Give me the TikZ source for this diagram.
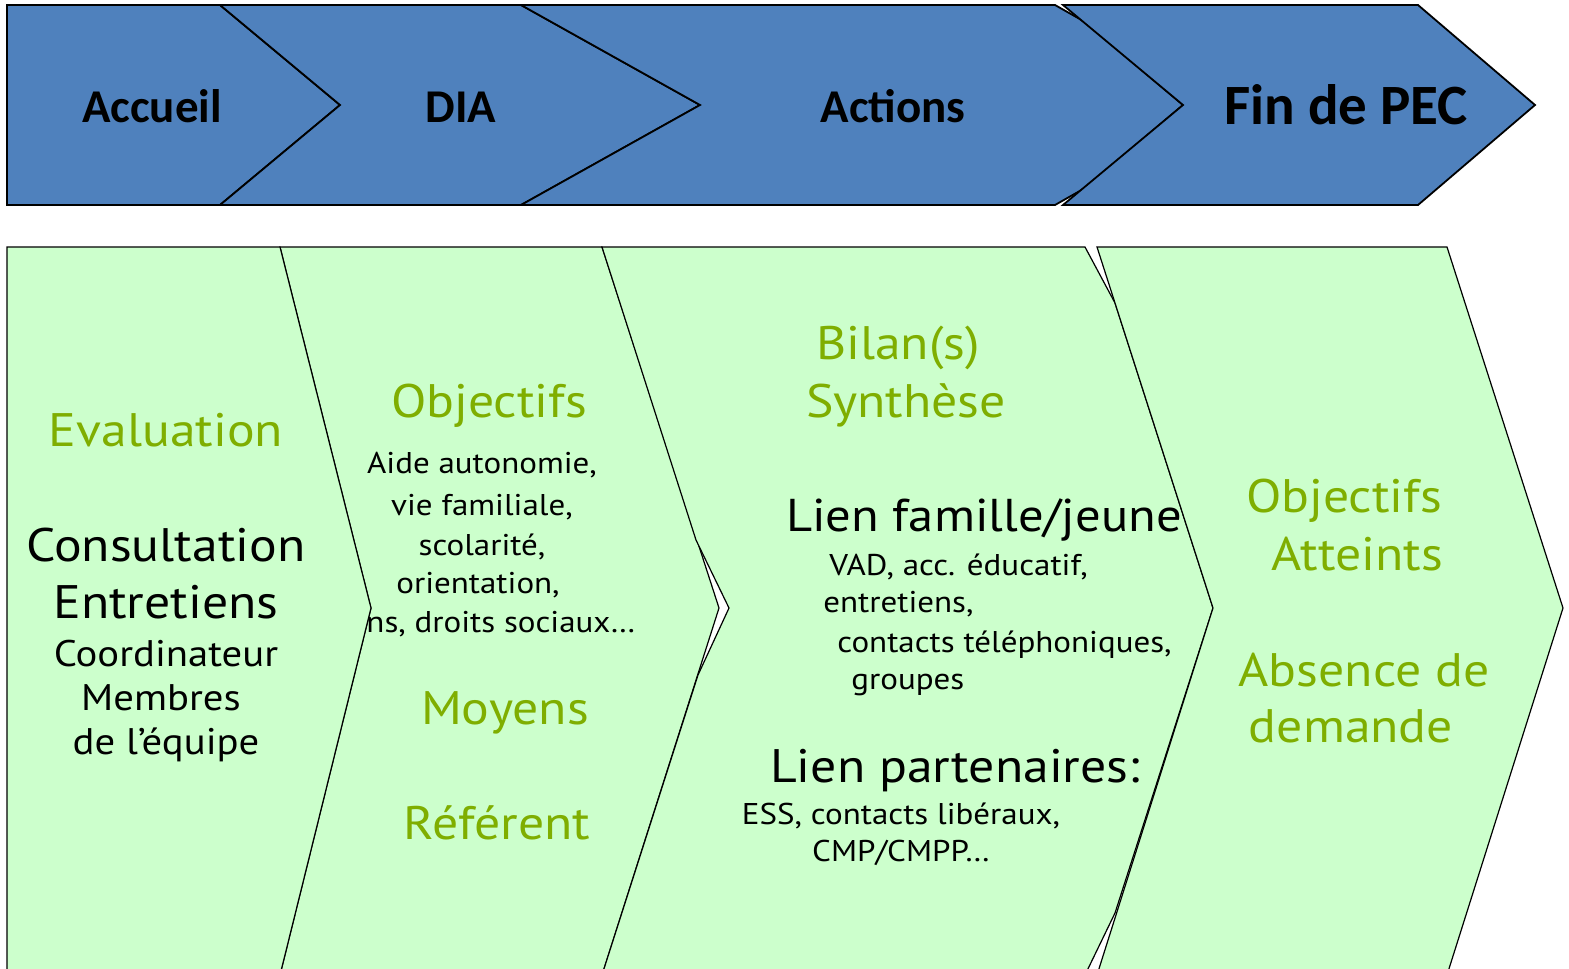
\documentclass[tikz,border=0pt]{standalone}
\usepackage{fontspec}
\setmainfont{PT Sans}[FakeStretch=1.1]
\newfontfamily\phasefont{Carlito}

\definecolor{phaseblue}{HTML}{4F81BD}
\definecolor{panelgreen}{HTML}{CCFFCC}
\definecolor{titlegreen}{HTML}{7FAE00}

\tikzset{
  phase/.style={fill=phaseblue,draw=black,line width=0.9pt},
  panel/.style={fill=panelgreen,draw=black,line width=0.6pt},
  phaselabel/.style={font=\phasefont\bfseries\fontsize{23.5}{28}\selectfont,anchor=base,inner sep=0pt},
  greentitle/.style={text=titlegreen,font=\fontsize{23.5}{28}\selectfont,anchor=base,inner sep=0pt},
  bigtext/.style={font=\fontsize{23.5}{28}\selectfont,anchor=base,inner sep=0pt},
  medtext/.style={font=\fontsize{18.5}{22}\selectfont,anchor=base,inner sep=0pt},
  smalltext/.style={font=\fontsize{15}{18}\selectfont,anchor=base,inner sep=0pt},
}

\begin{document}
\begin{tikzpicture}[x=0.5pt,y=-0.5pt]
\useasboundingbox (0,0) rectangle (1569,969);
\clip (0,0) rectangle (1569,969);

% phases along the top
\draw[phase] (7,5) -- (220,5) -- (340,105) -- (220,205) -- (7,205) -- cycle;
\draw[phase] (220,5) -- (521,5) -- (700,105) -- (521,205) -- (220,205) -- (340,105) -- cycle;
\draw[phase] (521,5) -- (1055,5) -- (1085,22) -- (1183,105) -- (1085,188) -- (1055,205)
  -- (521,205) -- (700,105) -- cycle;
\draw[phase] (1063,5) -- (1418,5) -- (1535,105) -- (1418,205) -- (1063,205) -- (1183,105) -- cycle;

\node[phaselabel] (accueil) at (152,122) {Accueil};
\node[phaselabel] (dia) at (461,122) {DIA};
\node[phaselabel] (actions) at (893,122) {Actions};
\node[phaselabel,font=\phasefont\bfseries\fontsize{28.5}{34}\selectfont] (fin) at (1346,124) {Fin de PEC};

% panels below
\draw[panel] (280,247) -- (602,247) -- (719,608) -- (602,975) -- (280,975) -- (371,608) -- cycle;
\draw[panel] (602,247) -- (1085,247) -- (1115,303) -- (1213,608) -- (1115,913) -- (1085,975)
  -- (602,975) -- (698,675) -- (729,608) -- (696,540) -- cycle;
\draw[panel] (1097,247) -- (1447,247) -- (1563,608) -- (1447,975) -- (1097,975) -- (1213,608) -- cycle;
\draw[panel] (7,247) -- (280,247) -- (371,608) -- (280,975) -- (7,975) -- cycle;

% accueil
\node[greentitle] (evaluation) at (166,446) {Evaluation};
\node[bigtext] (consultation) at (166,561) {Consultation};
\node[bigtext] (entretiens) at (166,618) {Entretiens};
\node[medtext] (coord) at (166,666) {Coordinateur};
\node[medtext] (membres) at (161,710) {Membres};
\node[medtext] (equipe) at (166,754) {de l’équipe};

% DIA
\node[greentitle] (objectifs) at (489,417) {Objectifs};
\node[smalltext] (aide) at (482,473) {Aide autonomie,};
\node[smalltext] (vie) at (482,515) {vie familiale,};
\node[smalltext] (scol) at (482,555) {scolarité,};
\node[smalltext] (orient) at (478,593) {orientation,};
\node[smalltext] (droits) at (501,632) {ns, droits sociaux…};
\node[greentitle] (moyens) at (505,724) {Moyens};
\node[greentitle] (referent) at (497,839) {Référent};

% actions
\node[greentitle] (bilan) at (898,359) {Bilan(s)};
\node[greentitle] (synthese) at (906,417) {Synthèse};
\node[bigtext,font=\fontsize{23}{27}\selectfont] (famille) at (984,531) {Lien famille/jeune};
\node[smalltext,anchor=base west] (vad) at (829,575) {VAD, acc. éducatif,};
\node[smalltext,anchor=base west] (entr) at (823,612) {entretiens,};
\node[smalltext,anchor=base west] (tel) at (837,652) {contacts téléphoniques,};
\node[smalltext,anchor=base west] (groupes) at (851,689) {groupes};
\node[bigtext] (partenaires) at (955,782) {Lien partenaires:};
\node[smalltext] (ess) at (901,824) {ESS, contacts libéraux,};
\node[smalltext] (cmp) at (901,861) {CMP/CMPP…};

% fin de prise en charge
\node[greentitle] (objatteints) at (1344,512) {Objectifs};
\node[greentitle] (atteints) at (1357,570) {Atteints};
\node[greentitle] (absence) at (1364,686) {Absence de};
\node[greentitle] (demande) at (1351,742) {demande};
\end{tikzpicture}
\end{document}
